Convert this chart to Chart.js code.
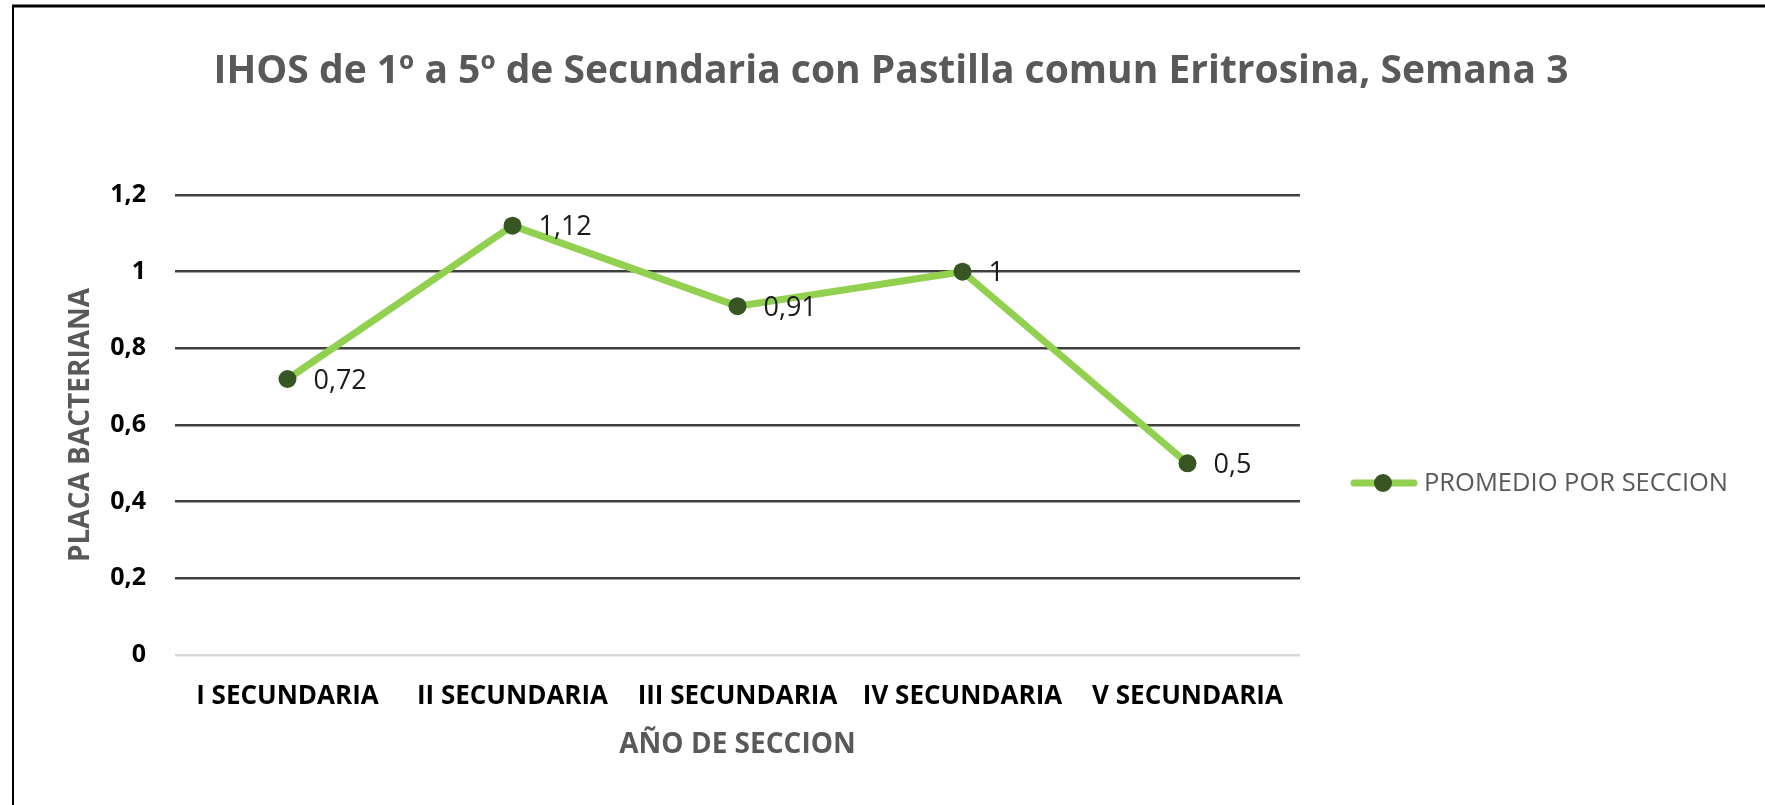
<!DOCTYPE html>
<html>
<head>
<meta charset="utf-8">
<script src="https://cdn.jsdelivr.net/npm/chart.js@4.4.0/dist/chart.umd.min.js"></script>
<style>
html,body{margin:0;padding:0;background:#fff;}
#wrap{width:1765px;height:805px;position:relative;}
</style>
</head>
<body>
<div id="wrap"><canvas id="c" width="1765" height="805"></canvas></div>
<script>
const categories = ['I SECUNDARIA', 'II SECUNDARIA', 'III SECUNDARIA', 'IV SECUNDARIA', 'V SECUNDARIA'];
const promedio = [0.72, 1.12, 0.91, 1, 0.5];
const dataLabels = ['0,72', '1,12', '0,91', '1', '0,5'];
const yTickLabels = ['0', '0,2', '0,4', '0,6', '0,8', '1', '1,2'];
const chartTitle = 'IHOS de 1º a 5º de Secundaria con Pastilla comun Eritrosina, Semana 3';
const seriesName = 'PROMEDIO POR SECCION';
const xTitle = 'AÑO DE SECCION';
const yTitle = 'PLACA BACTERIANA';

const FONT = "'Open Sans', 'Noto Sans', sans-serif";
const LINE = '#92D050';
const POINT = '#375623';

const framePlugin = {
  id: 'frame',
  beforeDraw(chart) {
    const ctx = chart.ctx;
    ctx.save();
    ctx.fillStyle = '#fff';
    ctx.fillRect(0, 0, chart.width, chart.height);
    ctx.strokeStyle = '#000';
    ctx.lineWidth = 3;
    ctx.beginPath();
    ctx.moveTo(12, 6);
    ctx.lineTo(chart.width, 6);
    ctx.stroke();
    ctx.lineWidth = 2;
    ctx.beginPath();
    ctx.moveTo(13, 6);
    ctx.lineTo(13, chart.height);
    ctx.stroke();
    // title
    ctx.fillStyle = '#595959';
    ctx.font = 'bold 39px ' + FONT;
    ctx.textAlign = 'center';
    ctx.textBaseline = 'middle';
    ctx.fillText(chartTitle, 891, 72);
    ctx.restore();
  },
  afterDatasetsDraw(chart) {
    const ctx = chart.ctx;
    const meta = chart.getDatasetMeta(0);
    ctx.save();
    ctx.fillStyle = '#1a1a1a';
    ctx.font = '27px ' + FONT;
    ctx.textAlign = 'left';
    ctx.textBaseline = 'middle';
    meta.data.forEach((pt, i) => {
      ctx.fillText(dataLabels[i], pt.x + 26, pt.y + 2);
    });
    // legend
    const ds = chart.data.datasets[0];
    const ly = 483;
    ctx.strokeStyle = ds.borderColor;
    ctx.lineWidth = 7;
    ctx.lineCap = 'round';
    ctx.beginPath();
    ctx.moveTo(1354, ly);
    ctx.lineTo(1414, ly);
    ctx.stroke();
    ctx.fillStyle = ds.pointBackgroundColor;
    ctx.beginPath();
    ctx.arc(1383, ly, 9, 0, Math.PI * 2);
    ctx.fill();
    ctx.fillStyle = '#595959';
    ctx.font = '25.5px ' + FONT;
    ctx.fillText(ds.label, 1424, ly + 1);
    ctx.restore();
  }
};

new Chart(document.getElementById('c'), {
  type: 'line',
  data: {
    labels: categories,
    datasets: [{
      label: seriesName,
      data: promedio,
      borderColor: LINE,
      backgroundColor: LINE,
      borderWidth: 7,
      borderCapStyle: 'round',
      borderJoinStyle: 'round',
      tension: 0,
      pointRadius: 9,
      pointHoverRadius: 9,
      pointBackgroundColor: POINT,
      pointBorderColor: POINT,
      pointBorderWidth: 0,
      fill: false
    }]
  },
  options: {
    responsive: false,
    animation: false,
    events: [],
    layout: { padding: { left: 0, top: 195, right: 465, bottom: 0 } },
    plugins: {
      legend: { display: false },
      title: { display: false },
      tooltip: { enabled: false }
    },
    scales: {
      x: {
        offset: true,
        grid: { display: false, drawTicks: false },
        border: { display: false },
        ticks: {
          color: '#000',
          font: { family: FONT, size: 26, weight: 'bold' },
          padding: 26,
          maxRotation: 0,
          autoSkip: false
        },
        title: {
          display: true,
          text: xTitle,
          color: '#595959',
          font: { family: FONT, size: 28, weight: 'bold' },
          padding: { top: 0, bottom: 43 }
        },
        afterFit(scale) { scale.height = 150; }
      },
      y: {
        min: 0,
        max: 1.2,
        grid: {
          color: (c) => (c.tick && c.tick.value === 0 ? '#D9D9D9' : '#404040'),
          lineWidth: 2.5,
          drawTicks: false
        },
        border: { display: false },
        ticks: {
          stepSize: 0.2,
          color: '#000',
          font: { family: FONT, size: 25, weight: 'bold' },
          padding: 29,
          callback: (v, i) => yTickLabels[i]
        },
        title: {
          display: true,
          text: yTitle,
          color: '#595959',
          font: { family: FONT, size: 28, weight: 'bold' },
          padding: { top: 64, bottom: 0 }
        },
        afterFit(scale) { scale.width = 175; }
      }
    }
  },
  plugins: [framePlugin]
});
</script>
</body>
</html>
